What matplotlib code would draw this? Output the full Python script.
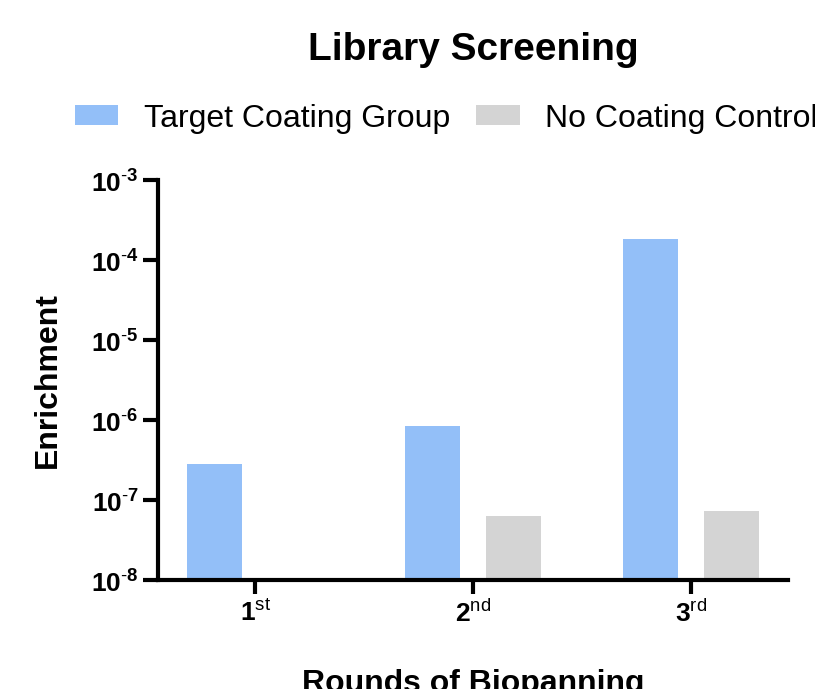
import numpy as np
import matplotlib
matplotlib.use("Agg")
import matplotlib.pyplot as plt
from matplotlib.ticker import FixedLocator, FuncFormatter

plt.rcParams['font.family'] = ['Liberation Sans', 'DejaVu Sans']
plt.rcParams['mathtext.fontset'] = 'custom'
plt.rcParams['mathtext.rm'] = 'Liberation Sans'
plt.rcParams['mathtext.bf'] = 'Liberation Sans:bold'

# data
rounds = ['1', '2', '3']
suffixes = ['st', 'nd', 'rd']
target = [2.8e-7, 8.4e-7, 1.8e-4]
control = [np.nan, 6.3e-8, 7.3e-8]
series_names = ['Target Coating Group', 'No Coating Control']
y_decades = [-8, -7, -6, -5, -4, -3]

blue = '#93BFF8'
grey = '#D4D4D4'

fig = plt.figure(figsize=(8.15, 6.89), dpi=100)
ax = fig.add_axes([0.194, 0.158, 0.773, 0.581])

x = np.arange(1, len(rounds) + 1)
w = 0.252
off = 0.186
ax.bar(x - off, target, width=w, color=blue, label=series_names[0], zorder=2)
ax.bar(x + off, control, width=w, color=grey, label=series_names[1], zorder=2)

ax.set_yscale('log')
ax.set_ylim(10.0 ** y_decades[0], 10.0 ** y_decades[-1])
ax.set_xlim(0.555, 3.445)

ax.yaxis.set_major_locator(FixedLocator([10.0 ** d for d in y_decades]))
ax.yaxis.set_minor_locator(FixedLocator([]))
ax.yaxis.set_major_formatter(FuncFormatter(
    lambda v, p: r'$\mathbf{10}^{\mathbf{\text{-}%d}}$' % abs(int(round(np.log10(v))))))
ax.set_xticks(x)
ax.set_xticklabels([r'$\mathbf{%s}^{\mathrm{%s}}$' % (r, s)
                    for r, s in zip(rounds, suffixes)])

for side in ['top', 'right']:
    ax.spines[side].set_visible(False)
for side in ['left', 'bottom']:
    ax.spines[side].set_linewidth(3.0)
    ax.spines[side].set_capstyle('projecting')

ax.tick_params(axis='y', which='major', length=11, width=3.0, pad=3,
               labelsize=19)
ax.tick_params(axis='x', which='major', length=10, width=3.0, pad=4,
               labelsize=19)

ax.set_ylabel('Enrichment', fontsize=23, fontweight='bold', labelpad=20)
ax.set_xlabel('Rounds of Biopanning', fontsize=23, fontweight='bold',
              labelpad=30)
ax.set_title('Library Screening', fontsize=28, fontweight='bold', pad=86)

fig.legend(loc='center left', bbox_to_anchor=(0.092, 0.828), ncol=2,
           frameon=False, fontsize=23, handlelength=1.36, handleheight=0.6,
           handletextpad=0.8, columnspacing=0.82, borderpad=0,
           borderaxespad=0)

fig.savefig('out.png', dpi=100)
